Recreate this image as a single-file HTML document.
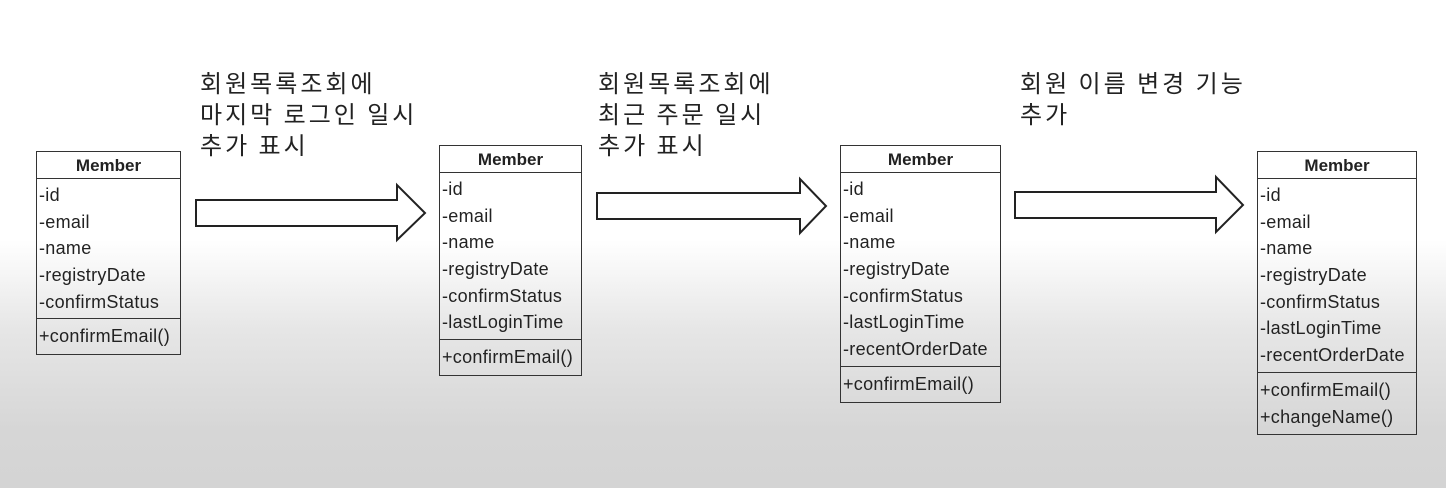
<!DOCTYPE html>
<html><head><meta charset="utf-8"><style>
html,body{margin:0;padding:0}
body{width:1446px;height:488px;overflow:hidden;position:relative;
background:linear-gradient(to bottom,#fff 0px,#fff 240px,#e6e6e6 330px,#d6d6d6 430px,#d4d4d4 488px);
font-family:"Liberation Sans","Noto Sans CJK KR",sans-serif;}
.lbl{position:absolute;font-size:24px;letter-spacing:3px;line-height:31px;color:#222;font-family:"Noto Sans CJK KR","Liberation Sans",sans-serif;}
.box{position:absolute;border:1.5px solid #333;box-sizing:border-box;font-size:18px;letter-spacing:0.3px;color:#222}
.hd{height:27px;border-bottom:1.5px solid #333;text-align:center;font-weight:bold;line-height:27px;font-size:17px;letter-spacing:0;box-sizing:border-box}
.r{height:26.7px;line-height:26.7px;padding-left:2px;white-space:nowrap}
.sec{border-bottom:1.5px solid #333;padding:3px 0 3px}
.m{padding:4px 0}
svg{position:absolute;left:0;top:0}
</style></head><body>
<svg width="1446" height="488">
<g fill="none" stroke="#222" stroke-width="2">
<polygon points="196,200 397,200 397,185 425,213 397,240 397,226 196,226"/>
<polygon points="597,193 800,193 800,179 826,206 800,233 800,219 597,219"/>
<polygon points="1015,192 1216,192 1216,177 1243,205 1216,232 1216,218 1015,218"/>
</g></svg>
<div class="lbl" style="left:200px;top:66px">회원목록조회에<br>마지막 로그인 일시<br>추가 표시</div>
<div class="lbl" style="left:598px;top:66px">회원목록조회에<br>최근 주문 일시<br>추가 표시</div>
<div class="lbl" style="left:1020px;top:66px">회원 이름 변경 기능<br>추가</div>

<div class="box" style="left:36px;top:151px;width:145px;height:204px">
<div class="hd">Member</div>
<div class="sec"><div class="r">-id</div><div class="r">-email</div><div class="r">-name</div><div class="r">-registryDate</div><div class="r">-confirmStatus</div></div>
<div class="m"><div class="r">+confirmEmail()</div></div>
</div>

<div class="box" style="left:439px;top:145px;width:143px;height:231px">
<div class="hd">Member</div>
<div class="sec"><div class="r">-id</div><div class="r">-email</div><div class="r">-name</div><div class="r">-registryDate</div><div class="r">-confirmStatus</div><div class="r">-lastLoginTime</div></div>
<div class="m"><div class="r">+confirmEmail()</div></div>
</div>

<div class="box" style="left:840px;top:145px;width:161px;height:258px">
<div class="hd">Member</div>
<div class="sec"><div class="r">-id</div><div class="r">-email</div><div class="r">-name</div><div class="r">-registryDate</div><div class="r">-confirmStatus</div><div class="r">-lastLoginTime</div><div class="r">-recentOrderDate</div></div>
<div class="m"><div class="r">+confirmEmail()</div></div>
</div>

<div class="box" style="left:1257px;top:151px;width:160px;height:284px">
<div class="hd">Member</div>
<div class="sec"><div class="r">-id</div><div class="r">-email</div><div class="r">-name</div><div class="r">-registryDate</div><div class="r">-confirmStatus</div><div class="r">-lastLoginTime</div><div class="r">-recentOrderDate</div></div>
<div class="m"><div class="r">+confirmEmail()</div><div class="r">+changeName()</div></div>
</div>
</body></html>
